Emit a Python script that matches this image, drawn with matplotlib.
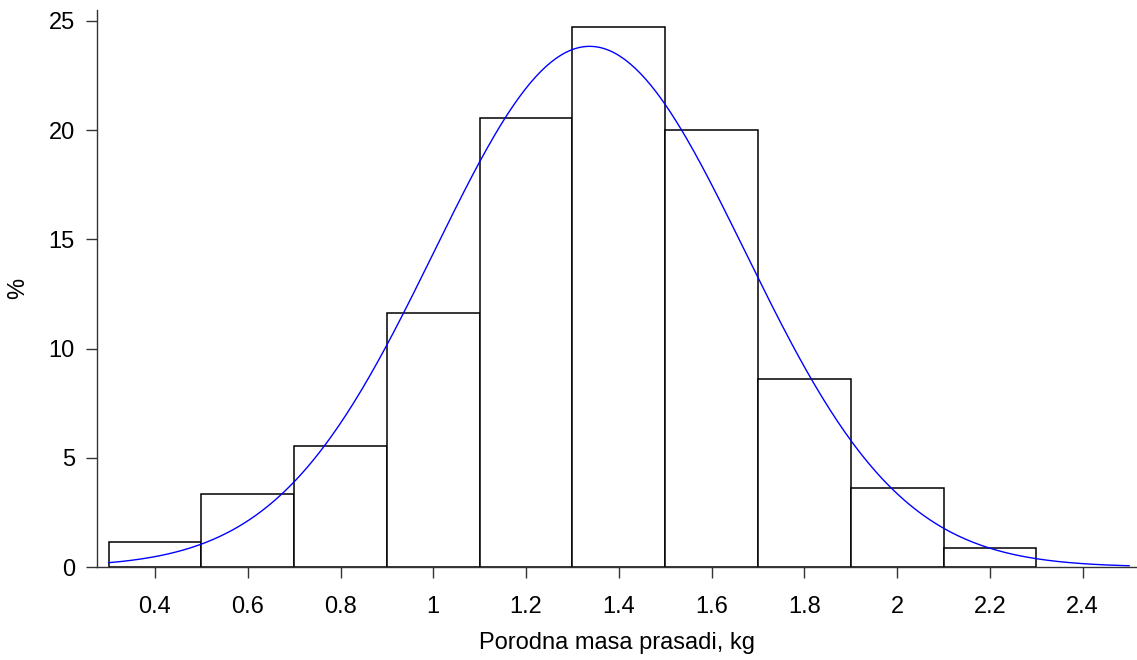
"""
Histogram of piglet birth weight with a fitted normal curve.
"""

import matplotlib
matplotlib.use("Agg")
import matplotlib.pyplot as plt
import numpy as np

# ---------------------------------------------------------------------------
# Data
# ---------------------------------------------------------------------------

bin_edges = [0.3, 0.5, 0.7, 0.9, 1.1, 1.3, 1.5, 1.7, 1.9, 2.1, 2.3, 2.5]
percent = [1.14, 3.34, 5.54, 11.63, 20.56, 24.72, 20.02, 8.61, 3.62, 0.87, 0.0]

# fitted normal curve parameters
fit_mean = 1.337
fit_sd = 0.3348

x_ticks = [0.4, 0.6, 0.8, 1.0, 1.2, 1.4, 1.6, 1.8, 2.0, 2.2, 2.4]
x_tick_labels = ["0.4", "0.6", "0.8", "1", "1.2", "1.4", "1.6", "1.8", "2", "2.2", "2.4"]
y_ticks = [0, 5, 10, 15, 20, 25]

x_label = "Porodna masa prasadi, kg"
y_label = "%"

# ---------------------------------------------------------------------------
# Plot
# ---------------------------------------------------------------------------

plt.rcParams["font.family"] = ["Liberation Sans", "DejaVu Sans"]

fig = plt.figure(figsize=(11.37, 6.6), dpi=100)
ax = fig.add_axes([0.0853, 0.1409, 0.9147, 0.8441])

edges = np.array(bin_edges)
widths = np.diff(edges)
heights = np.array(percent)
show = heights > 0
ax.bar(edges[:-1][show], heights[show], width=widths[show], align="edge",
       facecolor="white", edgecolor="black", linewidth=1.1)

# normal density scaled to percent per bin
bw = widths[0]
xs = np.linspace(edges[0], edges[-1], 400)
ys = 100 * bw / (fit_sd * np.sqrt(2 * np.pi)) * np.exp(-0.5 * ((xs - fit_mean) / fit_sd) ** 2)
ax.plot(xs, ys, color="#0000ff", linewidth=1.0)

ax.set_xlim(0.275, 2.517)
ax.set_ylim(0, 25.5)
ax.set_xticks(x_ticks)
ax.set_xticklabels(x_tick_labels)
ax.set_yticks(y_ticks)

for side in ["top", "right"]:
    ax.spines[side].set_visible(False)
for side in ["left", "bottom"]:
    ax.spines[side].set_linewidth(1.0)
    ax.spines[side].set_color("#333333")

ax.tick_params(axis="both", direction="out", length=8, width=1.0,
               color="#333333", labelsize=17)
ax.tick_params(axis="x", pad=13)
ax.tick_params(axis="y", pad=8)

ax.set_xlabel(x_label, fontsize=17, labelpad=10)
ax.set_ylabel(y_label, fontsize=17, labelpad=14)

fig.savefig("out.png", dpi=100)
